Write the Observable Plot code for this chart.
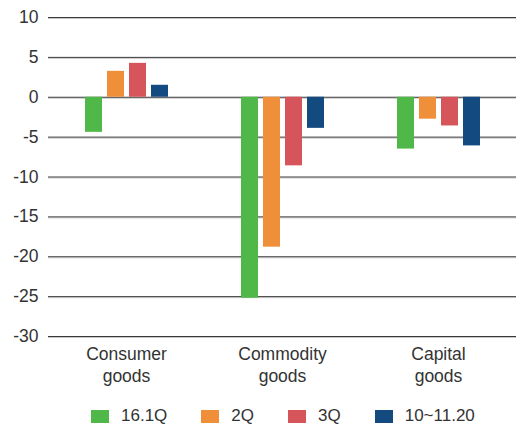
<!DOCTYPE html>
<html>
<head>
<meta charset="utf-8">
<script src="https://cdn.jsdelivr.net/npm/d3@7"></script>
<script src="https://cdn.jsdelivr.net/npm/@observablehq/plot@0.6"></script>
<style>
  html, body { margin: 0; padding: 0; background: #fff; }
  body { width: 517px; height: 428px; overflow: hidden; font-family: "Liberation Sans", Arial, sans-serif; color: #333; }
  #legend { display: flex; align-items: center; margin-left: 91px; margin-top: 14px; font-size: 17px; }
  .item { display: flex; align-items: center; margin-right: 34px; }
  .sw { width: 18px; height: 13px; margin-right: 12px; }
</style>
</head>
<body>
<div id="chart"></div>
<div id="legend"></div>
<script>
const categories = ["Consumer goods", "Commodity goods", "Capital goods"];
const series = ["16.1Q", "2Q", "3Q", "10~11.20"];
const q161 = [-4.4, -25.2, -6.5];
const q2 = [3.25, -18.8, -2.75];
const q3 = [4.25, -8.6, -3.6];
const q1011 = [1.5, -3.9, -6.1];
const yTicks = [10, 5, 0, -5, -10, -15, -20, -25, -30];
const colors = ["#50b848", "#f08f3a", "#d5555b", "#134a80"];

const seriesValues = [q161, q2, q3, q1011];
const data = [];
categories.forEach((c, i) => {
  series.forEach((s, j) => {
    data.push({category: c, series: s, value: seriesValues[j][i]});
  });
});

const chart = Plot.plot({
  width: 517,
  height: 392,
  marginLeft: 47,
  marginRight: 0,
  marginTop: 17,
  marginBottom: 56,
  style: {fontSize: "17.5px", fontFamily: "'Liberation Sans', Arial, sans-serif", color: "#333", background: "#fff"},
  fx: {domain: categories, padding: 0, label: null},
  x: {domain: series, axis: null, paddingInner: 0.25, paddingOuter: 1.58},
  y: {domain: [-30, 10], label: null},
  color: {domain: series, range: colors},
  marks: [
    Plot.ruleY(yTicks, {stroke: "#c8c8c8", strokeWidth: 1, dy: 1}),
    Plot.ruleY(yTicks, {stroke: "#3a3a3a", strokeWidth: 1}),
    Plot.barY(data, {fx: "category", x: "series", y: "value", fill: "series"}),
    Plot.axisY(yTicks, {tickSize: 0, tickPadding: 10, label: null, tickFormat: d => String(d), fill: "#333"}),
    Plot.axisFx({anchor: "bottom", tickSize: 0, tickPadding: 7, label: null, lineHeight: 1.3, fill: "#333", tickFormat: d => d.replace(" ", "\n")})
  ]
});
document.getElementById("chart").appendChild(chart);

const legend = document.getElementById("legend");
series.forEach((s, j) => {
  const item = document.createElement("div");
  item.className = "item";
  const sw = document.createElement("div");
  sw.className = "sw";
  sw.style.background = colors[j];
  const t = document.createElement("span");
  t.textContent = s;
  item.appendChild(sw);
  item.appendChild(t);
  legend.appendChild(item);
});
</script>
</body>
</html>
